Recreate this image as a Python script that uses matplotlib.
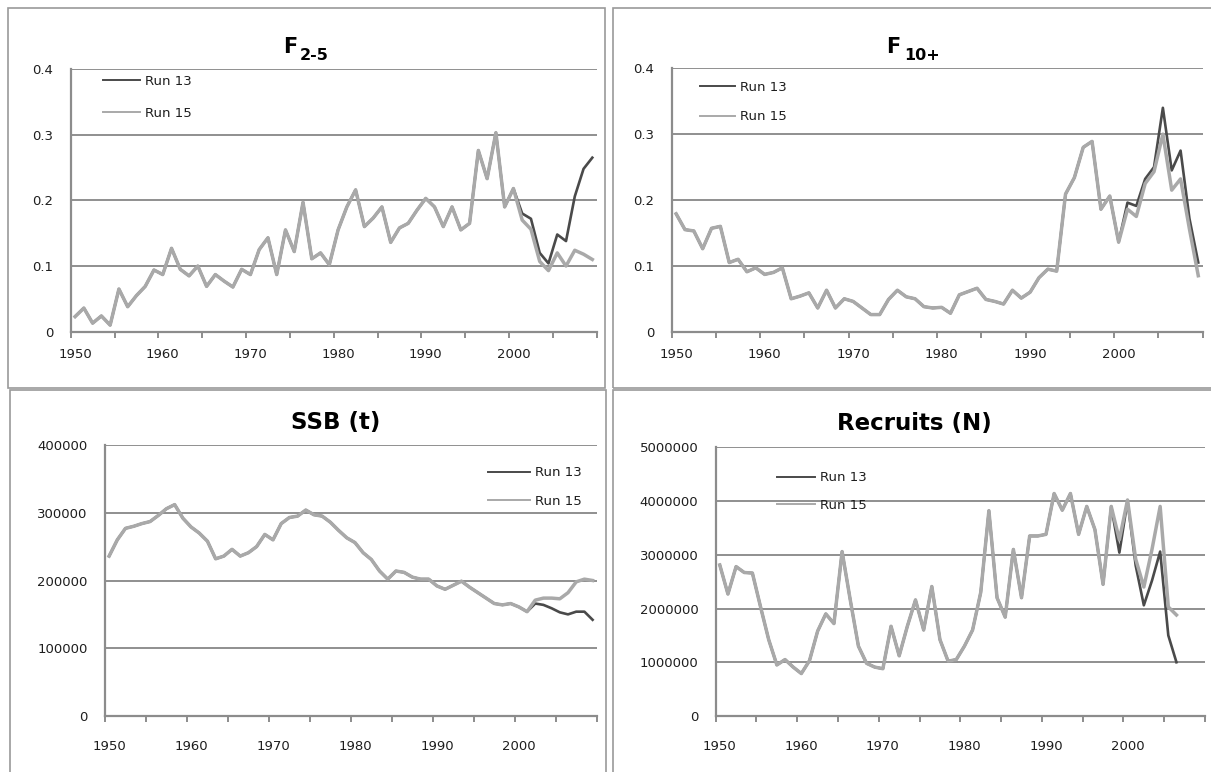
import numpy as np
import matplotlib
matplotlib.use("Agg")
import matplotlib.pyplot as plt
from matplotlib.lines import Line2D
from matplotlib.patches import Rectangle

# ---------------- data ----------------
years = np.arange(1950, 2010)
rec_years = np.arange(1950, 2007)

f25_run15 = [0.023, 0.036, 0.013, 0.024, 0.010, 0.065, 0.038, 0.055, 0.069, 0.094,
             0.087, 0.127, 0.095, 0.085, 0.100, 0.069, 0.087, 0.077, 0.068, 0.095,
             0.087, 0.125, 0.143, 0.087, 0.155, 0.122, 0.197, 0.111, 0.120, 0.102,
             0.155, 0.190, 0.216, 0.160, 0.173, 0.190, 0.136, 0.158, 0.165, 0.185,
             0.203, 0.190, 0.160, 0.190, 0.155, 0.165, 0.276, 0.233, 0.303, 0.190,
             0.218, 0.170, 0.156, 0.107, 0.093, 0.120, 0.100, 0.124, 0.118, 0.110]
f25_run13 = f25_run15[:51] + [0.180, 0.172, 0.120, 0.104, 0.148, 0.138, 0.206, 0.248, 0.265]

f10_run15 = [0.179, 0.155, 0.153, 0.126, 0.157, 0.160, 0.105, 0.110, 0.091, 0.097,
             0.087, 0.090, 0.097, 0.050, 0.054, 0.059, 0.036, 0.063, 0.036, 0.050,
             0.046, 0.036, 0.026, 0.026, 0.049, 0.063, 0.053, 0.050, 0.038, 0.036,
             0.037, 0.028, 0.056, 0.061, 0.066, 0.049, 0.046, 0.042, 0.063, 0.051,
             0.060, 0.082, 0.095, 0.092, 0.209, 0.234, 0.280, 0.289, 0.186, 0.206,
             0.136, 0.186, 0.175, 0.225, 0.243, 0.300, 0.215, 0.232, 0.156, 0.085]
f10_run13 = f10_run15[:51] + [0.196, 0.191, 0.232, 0.250, 0.340, 0.245, 0.275, 0.172, 0.105]

ssb_run15 = [236000, 260000, 277000, 280000, 284000, 287000, 296000, 306000, 312000, 292000,
             279000, 270000, 258000, 232000, 236000, 246000, 236000, 241000, 250000, 268000,
             260000, 284000, 293000, 295000, 304000, 297000, 295000, 286000, 274000, 263000,
             256000, 241000, 231000, 214000, 202000, 214000, 212000, 205000, 202000, 202000,
             192000, 187000, 193000, 199000, 190000, 182000, 174000, 166000, 164000, 166000,
             161000, 154000, 171000, 174000, 174000, 173000, 182000, 198000, 202000, 200000]
ssb_run13 = ssb_run15[:52] + [166000, 164000, 159000, 153000, 150000, 154000, 154000, 142000]

rec_run15 = [2810000, 2270000, 2780000, 2670000, 2660000, 2030000, 1420000, 950000, 1050000, 910000,
             790000, 1030000, 1580000, 1900000, 1720000, 3060000, 2160000, 1300000, 980000, 910000,
             880000, 1670000, 1120000, 1670000, 2160000, 1600000, 2410000, 1420000, 1020000, 1050000,
             1300000, 1600000, 2300000, 3820000, 2200000, 1840000, 3100000, 2200000, 3350000, 3350000,
             3380000, 4140000, 3830000, 4140000, 3380000, 3900000, 3470000, 2450000, 3900000, 3280000,
             4020000, 2920000, 2400000, 3100000, 3900000, 2030000, 1880000]
rec_run13 = rec_run15[:49] + [3040000, 4000000, 2800000, 2060000, 2520000, 3060000, 1500000, 1000000]

labels = ["Run 13", "Run 15"]
titles = ["F", "F", "SSB (t)", "Recruits (N)"]
subs = ["2-5", "10+"]
xlabels = [1950, 1960, 1970, 1980, 1990, 2000]

# ---------------- style ----------------
W, H = 1211, 772
DARK = "#4a4a4a"
LIGHT = "#a9a9a9"
GRID = "#7d7d7d"
AX = "#8c8c8c"
TXT = "#1e1e1e"
plt.rcParams["font.family"] = ["DejaVu Sans"]

fig = plt.figure(figsize=(W / 100, H / 100), dpi=100)
fig.patch.set_facecolor("white")

# chart-area frames
for (x0, y0, x1, y1) in [(8, 8, 605, 388), (613, 8, 1215, 388),
                         (10, 390, 606, 776), (613, 390, 1215, 776)]:
    fig.add_artist(Rectangle((x0 / W, 1 - y1 / H), (x1 - x0) / W, (y1 - y0) / H,
                             transform=fig.transFigure, fill=False,
                             edgecolor="#9a9a9a", lw=1.2))


def px_axes(x0, x1, ytop, ybot):
    return fig.add_axes([x0 / W, 1 - ybot / H, (x1 - x0) / W, (ybot - ytop) / H])


def style(ax, yticks, ylabs, xpad, ylim):
    ax.set_xlim(1949.5, 2009.5)
    ax.set_ylim(*ylim)
    for s in ["top", "right"]:
        ax.spines[s].set_visible(False)
    for s in ["left", "bottom"]:
        ax.spines[s].set_color(AX)
        ax.spines[s].set_linewidth(1.6)
    ax.set_yticks(yticks)
    ax.set_yticklabels(ylabs)
    ax.tick_params(axis="y", length=0, pad=12.5, labelsize=9.5, labelcolor=TXT)
    for y in yticks[1:]:
        ax.axhline(y, color=GRID, lw=1.2, zorder=1)
    ax.set_xticks(np.arange(1949.5, 2010, 5))
    ax.set_xticklabels([])
    ax.tick_params(axis="x", which="major", length=4, width=1.4, color=AX)
    ax.set_xticks(xlabels, minor=True)
    ax.set_xticklabels([str(v) for v in xlabels], minor=True)
    ax.tick_params(axis="x", which="minor", length=0, pad=xpad, labelsize=9.5, labelcolor=TXT)
    ax.set_facecolor("none")


def legend(ax, x0px, y1px, spacing, hlen, axbox):
    ax_x0, ax_x1, ax_top, ax_bot = axbox
    fs = 9.5
    fpx = fs * 100 / 72
    handles = [Line2D([], [], color=DARK, lw=1.4), Line2D([], [], color=LIGHT, lw=1.4)]
    textH = fpx * 1.16
    top_px = y1px - textH / 2
    bx = (x0px - ax_x0) / (ax_x1 - ax_x0)
    by = 1 - (top_px - ax_top) / (ax_bot - ax_top)
    ax.legend(handles, labels, loc="upper left", bbox_to_anchor=(bx, by),
              frameon=False, fontsize=fs, handlelength=hlen / fpx,
              handletextpad=0.4, borderpad=0, borderaxespad=0,
              labelspacing=(spacing - textH) / fpx, labelcolor=TXT)


def draw(ax, x, r13, r15):
    ax.plot(x, r13, color=DARK, lw=1.9, zorder=3, solid_joinstyle="round")
    ax.plot(x, r15, color=LIGHT, lw=2.5, zorder=4, solid_joinstyle="round")


# Panel 1: F 2-5
b1 = (70.7, 596.7, 69, 331.7)
ax1 = px_axes(*b1)
draw(ax1, years, f25_run13, f25_run15)
style(ax1, [0, 0.1, 0.2, 0.3, 0.4], ["0", "0.1", "0.2", "0.3", "0.4"], 11.5, (0, 0.4))
legend(ax1, 103, 82.7, 34, 37, b1)

# Panel 2: F 10+
b2 = (671.7, 1202.7, 68.3, 331.7)
ax2 = px_axes(*b2)
draw(ax2, years, f10_run13, f10_run15)
style(ax2, [0, 0.1, 0.2, 0.3, 0.4], ["0", "0.1", "0.2", "0.3", "0.4"], 11.5, (0, 0.4))
legend(ax2, 700, 88.3, 32, 35, b2)

# Panel 3: SSB
b3 = (105, 596.7, 445, 716)
ax3 = px_axes(*b3)
draw(ax3, years, ssb_run13, ssb_run15)
style(ax3, [0, 100000, 200000, 300000, 400000],
      ["0", "100000", "200000", "300000", "400000"], 17, (0, 400000))
legend(ax3, 488, 474, 31, 42, b3)

# Panel 4: Recruits
b4 = (715.7, 1205, 447.3, 716)
ax4 = px_axes(*b4)
draw(ax4, rec_years, rec_run13, rec_run15)
style(ax4, [0, 1000000, 2000000, 3000000, 4000000, 5000000],
      ["0", "1000000", "2000000", "3000000", "4000000", "5000000"], 17, (0, 5000000))
legend(ax4, 776.7, 479, 29.5, 38, b4)

# titles
def ftext(x, y, s, **kw):
    fig.text(x / W, 1 - y / H, s, color="black", fontweight="bold", **kw)

ftext(297, 47, titles[0], ha="right", va="center", fontsize=15)
ftext(300, 55, subs[0], ha="left", va="center", fontsize=11.5)
ftext(900, 47, titles[1], ha="right", va="center", fontsize=15)
ftext(904, 55, subs[1], ha="left", va="center", fontsize=11.5)
ftext(336, 422, titles[2], ha="center", va="center", fontsize=16.5)
ftext(914, 424, titles[3], ha="center", va="center", fontsize=16.5)

fig.savefig("out.png", dpi=100, facecolor="white")
